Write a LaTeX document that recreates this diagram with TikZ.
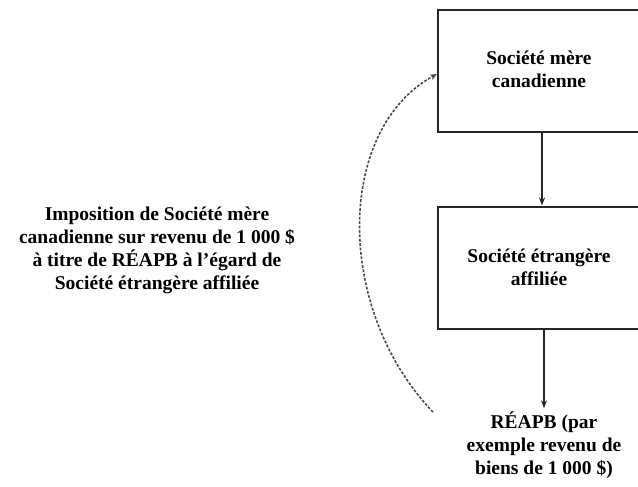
\documentclass[tikz,border=0pt]{standalone}
\usepackage{fontspec}
\setmainfont{Liberation Serif}
\usepackage{xcolor}
\usepackage{tikz}
\usetikzlibrary{arrows.meta}

\tikzset{
  entity/.style={draw=black!85, line width=2pt, minimum width=202pt, minimum height=122pt,
    align=center, inner sep=0pt},
  caption/.style={align=center, inner sep=0pt},
  flow/.style={-{Stealth[length=8pt,width=6pt]}, line width=1.3pt, draw=black!85},
  taxflow/.style={-{Stealth[length=7pt,width=6pt]}, line width=1.6pt, draw=black!70, dash pattern=on 2.8pt off 1.6pt}
}

\begin{document}
\begin{tikzpicture}[x=1pt, y=-1pt, font=\bfseries\fontsize{19.5}{23}\selectfont]
                \useasboundingbox (0,0) rectangle (638,487);
                % Societe mere
                \node[entity] (parent) at (539,71) {\raisebox{-3pt}{\begin{tabular}{@{}c@{}}Société mère\\canadienne\end{tabular}}};
                % Societe etrangere affiliee
                \node[entity] (affiliate) at (539,267.5) {Société étrangère\\affiliée};
                % REAPB
                \node[caption] (fapi) at (544,445) {\fontsize{19.5}{25.5}\selectfont RÉAPB (par\\exemple revenu de\\biens de 1 000 \$)};
                % Imposition
                \node[caption] (note) at (157,250) {Imposition de Société mère\\canadienne sur revenu de 1 000 \$\\à titre de RÉAPB à l’égard de\\Société étrangère affiliée};
                % Fleches
                \draw[flow] ([xshift=3pt]parent.south) -- ([xshift=3pt]affiliate.north);
                \draw[flow] (affiliate.south -| fapi.north) -- ([yshift=3pt]fapi.north);
                % Retour en pointille
                \coordinate (loopstart) at (433,412);
                \draw[taxflow] (loopstart) .. controls (335,310) and (335,130) .. ([yshift=-3pt]parent.west);
            \end{tikzpicture}
\end{document}
